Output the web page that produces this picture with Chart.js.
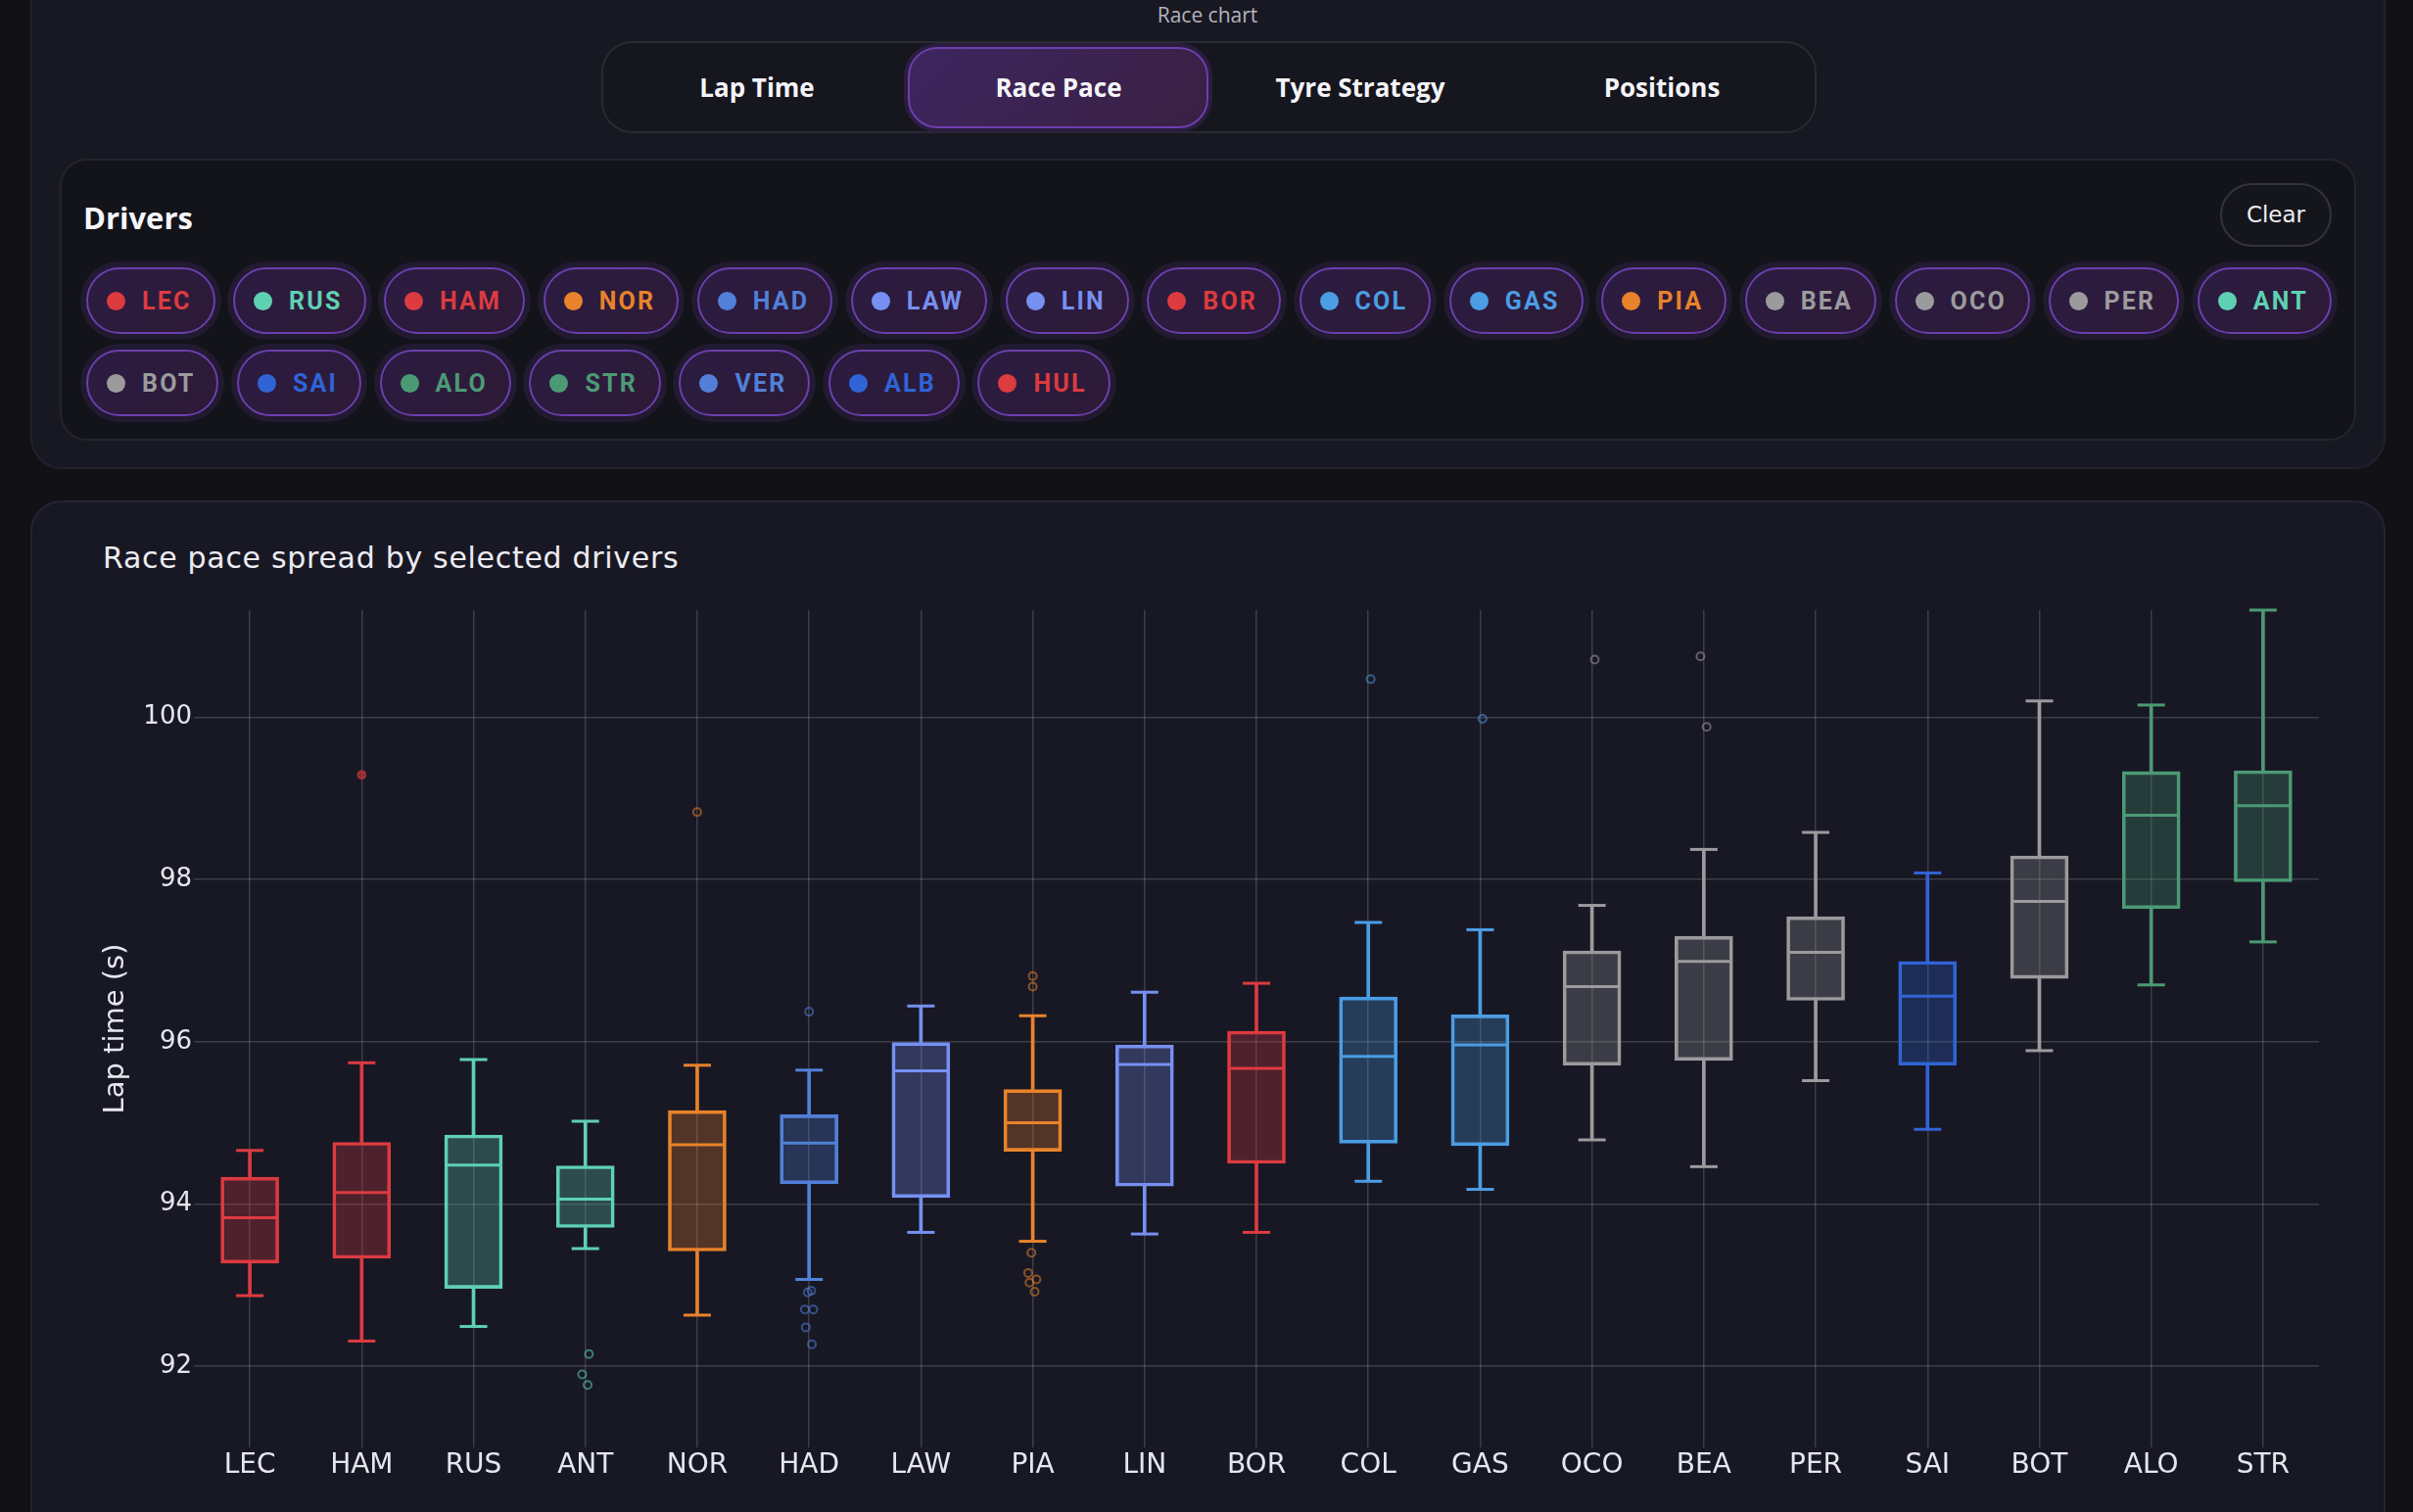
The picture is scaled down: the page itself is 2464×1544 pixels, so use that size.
<!DOCTYPE html>
<html><head><meta charset="utf-8">
<script src="https://cdn.jsdelivr.net/npm/chart.js@4.4.1/dist/chart.umd.min.js"></script>
<style>
html,body{margin:0;padding:0;width:2464px;height:1544px;overflow:hidden;background:#111116;font-family:"Open Sans",sans-serif;}
.abs{position:absolute;box-sizing:border-box;}
#topPanel{left:31px;top:-40px;width:2405px;height:519px;background:#181822;border:2px solid #22222c;border-radius:32px;}
#raceLbl{left:1083px;top:1px;width:300px;text-align:center;font-size:21px;color:#b4b4be;}
#tabs{left:614px;top:42px;width:1241px;height:94px;border:2px solid #2a2a34;border-radius:32px;background:#16161e;}
.tab{top:48px;height:83px;width:308px;line-height:83px;text-align:center;font-weight:700;font-size:26px;color:#f4f4f8;}
#activeTab{left:927px;top:48px;width:307px;height:83px;border:2px solid #6d3fb0;border-radius:30px;box-shadow:0 0 0 4px #2a1d3e;background:linear-gradient(135deg,#3d2660,#3a2042);}
#drvPanel{left:61px;top:162px;width:2345px;height:288px;border:2px solid #24242e;border-radius:28px;background:#13131a;}
#drvTitle{left:85px;top:202px;font-size:31px;font-weight:700;color:#f6f6fa;line-height:40px;}
#clear{left:2267px;top:187px;width:114px;height:65px;border:2px solid #33333d;border-radius:33px;background:#15151c;color:#eeeef2;font-family:"DejaVu Sans",sans-serif;font-size:23px;line-height:61px;text-align:center;}
.row{left:88px;display:flex;gap:18.5px;}
.chip{height:68px;box-sizing:border-box;border:2px solid #6b3fae;border-radius:34px;box-shadow:0 0 0 6px #221a31;background:linear-gradient(135deg,#2b1c42,#2e1a36);display:flex;align-items:center;padding:0 22px 0 19px;font-family:Roboto,sans-serif;font-weight:700;font-size:25px;letter-spacing:2.2px;}
.dot{width:19px;height:19px;border-radius:50%;margin-right:17px;}
#chartPanel{left:31px;top:511px;width:2405px;height:1100px;border:2px solid #24242e;border-radius:32px;background:#181824;}
#chartTitle{left:105px;top:552px;font-family:"DejaVu Sans",sans-serif;font-size:30px;letter-spacing:0.7px;color:#ececf2;line-height:36px;}
#cv{position:absolute;left:60px;top:600px;}
</style></head>
<body>
<div id="topPanel" class="abs"></div>
<div id="raceLbl" class="abs">Race chart</div>
<div id="tabs" class="abs"></div>
<div id="activeTab" class="abs"></div>
<div class="abs tab" style="left:619px">Lap Time</div>
<div class="abs tab" style="left:927px">Race Pace</div>
<div class="abs tab" style="left:1235px">Tyre Strategy</div>
<div class="abs tab" style="left:1543px">Positions</div>
<div id="drvPanel" class="abs"></div>
<div id="drvTitle" class="abs">Drivers</div>
<div id="clear" class="abs">Clear</div>
<div id="row1" class="abs row" style="top:273px"></div>
<div id="row2" class="abs row" style="top:357px"></div>
<div id="chartPanel" class="abs"></div>
<div id="chartTitle" class="abs">Race pace spread by selected drivers</div>
<canvas id="cv" width="2340" height="938" style="width:2340px;height:938px"></canvas>
<script>
// ---- driver chips ----
const chipRow1 = ['LEC','RUS','HAM','NOR','HAD','LAW','LIN','BOR','COL','GAS','PIA','BEA','OCO','PER','ANT'];
const chipRow2 = ['BOT','SAI','ALO','STR','VER','ALB','HUL'];
const teamColor = {
  LEC:'#dc3b40', HAM:'#dc3b40', BOR:'#dc3b40', HUL:'#dc3b40',
  RUS:'#5fd1b3', ANT:'#5fd1b3',
  NOR:'#e8832b', PIA:'#e8832b',
  HAD:'#5280d8', VER:'#5280d8',
  LAW:'#7690f2', LIN:'#7690f2',
  COL:'#4b9de4', GAS:'#4b9de4',
  OCO:'#9b9b9e', BEA:'#9b9b9e', PER:'#9b9b9e', BOT:'#9b9b9e',
  SAI:'#3064d6', ALB:'#3064d6',
  ALO:'#4c9a75', STR:'#4c9a75'
};

// ---- race pace data (lap time, s) ----
const drivers     = ['LEC','HAM','RUS','ANT','NOR','HAD','LAW','PIA','LIN','BOR','COL','GAS','OCO','BEA','PER','SAI','BOT','ALO','STR'];
const whiskerLow  = [92.87,92.31,92.49,93.45,92.63,93.07,93.65,93.54,93.63,93.65,94.28,94.18,94.79,94.46,95.52,94.92,95.89,96.70,97.23];
const q1          = [93.27,93.33,92.96,93.71,93.42,94.25,94.08,94.65,94.22,94.50,94.75,94.72,95.71,95.77,96.51,95.71,96.78,97.64,97.97];
const median      = [93.83,94.14,94.48,94.06,94.73,94.75,95.64,95.00,95.72,95.67,95.82,95.96,96.68,96.99,97.10,96.56,97.73,98.79,98.91];
const q3          = [94.33,94.76,94.85,94.47,95.15,95.10,95.99,95.41,95.96,96.13,96.55,96.33,97.12,97.30,97.54,96.99,98.29,99.33,99.34];
const whiskerHigh = [94.66,95.74,95.78,95.02,95.71,95.65,96.44,96.32,96.61,96.72,97.47,97.38,97.68,98.37,98.58,98.08,100.20,100.15,101.32];

const outlierDriver = ['HAM','ANT','ANT','ANT','NOR','HAD','HAD','HAD','HAD','HAD','HAD','HAD','PIA','PIA','PIA','PIA','PIA','PIA','PIA','COL','GAS','OCO','BEA','BEA'];
const outlierTime   = [99.29,92.15,91.90,91.77,98.83,96.37,92.93,92.91,92.70,92.70,92.48,92.27,96.81,96.68,93.40,93.15,93.07,93.03,92.92,100.47,99.98,100.71,100.75,99.88];
const outlierJitter = [0,0.032,-0.029,0.02,0,0,0.02,-0.012,-0.037,0.037,-0.029,0.025,0,0,-0.012,-0.041,0.033,-0.029,0.017,0.021,0.021,0.025,-0.03,0.025];
const filledOutliers = ['HAM'];

const yTicks = [92,94,96,98,100];
const yMin = 91.0, yMax = 101.32;

function hexA(h,a){const n=parseInt(h.slice(1),16);return `rgba(${n>>16&255},${n>>8&255},${n&255},${a})`;}

function makeRow(el, names){
  names.forEach(n=>{
    const c=document.createElement('div');c.className='chip';c.style.color=teamColor[n];
    const d=document.createElement('span');d.className='dot';d.style.background=teamColor[n];
    c.appendChild(d);c.appendChild(document.createTextNode(n));el.appendChild(c);
  });
}
makeRow(document.getElementById('row1'),chipRow1);
makeRow(document.getElementById('row2'),chipRow2);

const driverColor = drivers.map(d=>teamColor[d]);
const gridColor = 'rgba(255,255,255,0.16)';
const txt = '#e6e6ee';

new Chart(document.getElementById('cv'), {
  type:'bar',
  data:{
    labels: drivers,
    datasets:[
      {type:'line', label:'Median', data:median, showLine:false, pointStyle:'line', pointRadius:28, pointHoverRadius:28, pointBorderWidth:3, pointHoverBorderWidth:3, pointBorderColor:driverColor, pointBackgroundColor:driverColor, order:0, clip:false},
      {type:'line', label:'Max', data:whiskerHigh, showLine:false, pointStyle:'line', pointRadius:14, pointHoverRadius:14, pointBorderWidth:3, pointHoverBorderWidth:3, pointBorderColor:driverColor, order:1, clip:false},
      {type:'line', label:'Min', data:whiskerLow, showLine:false, pointStyle:'line', pointRadius:14, pointHoverRadius:14, pointBorderWidth:3, pointHoverBorderWidth:3, pointBorderColor:driverColor, order:1, clip:false},
      {type:'bar', label:'IQR', data:drivers.map((d,i)=>[q1[i],q3[i]]), backgroundColor:driverColor.map(c=>hexA(c,0.28)), borderColor:driverColor, borderWidth:3, borderSkipped:false, barThickness:59, grouped:false, order:2},
      {type:'bar', label:'Upper whisker', data:drivers.map((d,i)=>[q3[i],whiskerHigh[i]]), backgroundColor:driverColor, borderWidth:0, barThickness:3, grouped:false, order:3},
      {type:'bar', label:'Lower whisker', data:drivers.map((d,i)=>[whiskerLow[i],q1[i]]), backgroundColor:driverColor, borderWidth:0, barThickness:3, grouped:false, order:3},
      {type:'scatter', label:'Outliers', xAxisID:'xo', data:outlierTime.map((t,k)=>({x:drivers.indexOf(outlierDriver[k])+outlierJitter[k], y:t})),
        pointRadius:4, pointHoverRadius:4, pointBorderWidth:2,
        pointBackgroundColor:outlierDriver.map(d=>filledOutliers.includes(d)?hexA(teamColor[d],0.55):'rgba(0,0,0,0)'),
        pointBorderColor:outlierDriver.map(d=>hexA(teamColor[d],0.55)), order:4, clip:false}
    ]
  },
  options:{
    responsive:false, animation:false, events:[],
    layout:{autoPadding:false, padding:{left:41,right:32,top:23,bottom:0}},
    plugins:{legend:{display:false}, tooltip:{enabled:false}, title:{display:false}},
    scales:{
      x:{type:'category', offset:true,
         grid:{offset:false, color:gridColor, lineWidth:1.5, drawTicks:false},
         border:{display:false},
         ticks:{color:txt, font:{family:'DejaVu Sans', size:28}, padding:2, maxRotation:0, autoSkip:false},
         afterFit(s){ s.height = 60; }},
      xo:{type:'linear', offset:false, min:-0.5, max:drivers.length-0.5, display:false},
      y:{type:'linear', min:yMin, max:yMax,
         grid:{color:gridColor, lineWidth:1.5, drawTicks:false},
         border:{display:false},
         ticks:{color:txt, font:{family:'DejaVu Sans', size:26}, padding:2},
         afterBuildTicks(s){ s.ticks = yTicks.map(v=>({value:v})); },
         title:{display:true, text:'Lap time (s)', color:txt, font:{family:'DejaVu Sans', size:29}, padding:{top:0,bottom:0}},
         afterFit(s){ s.width = 97; }}
    }
  }
});
</script>
</body></html>
